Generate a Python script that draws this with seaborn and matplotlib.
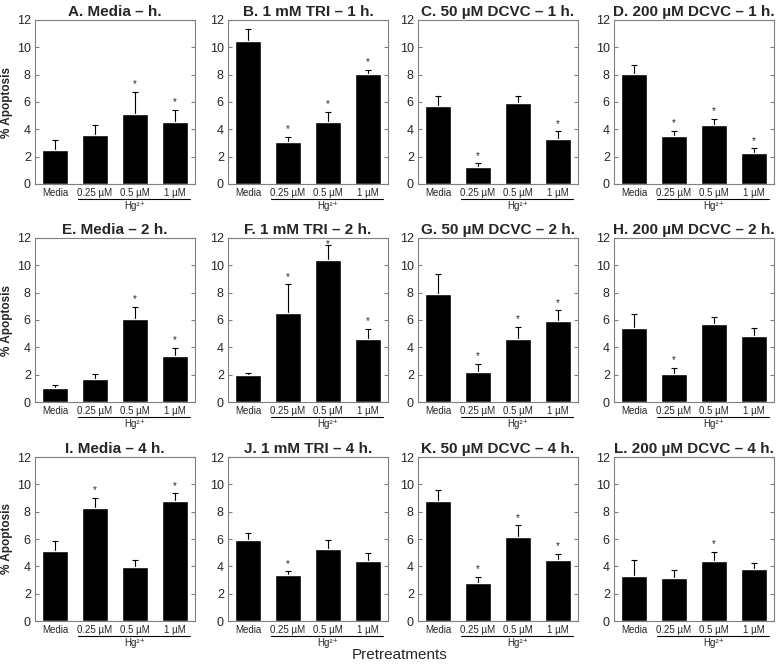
import matplotlib
matplotlib.use("Agg")
import matplotlib.pyplot as plt
import matplotlib.transforms as mtransforms
import seaborn as sns
import numpy as np

sns.set_style("white")
plt.rcParams['font.family'] = ['Liberation Sans', 'DejaVu Sans']

# data
groups = ["Media", "0.25 µM", "0.5 µM", "1 µM"]
titles = ["A. Media – h.", "B. 1 mM TRI – 1 h.", "C. 50 µM DCVC – 1 h.", "D. 200 µM DCVC – 1 h.",
          "E. Media – 2 h.", "F. 1 mM TRI – 2 h.", "G. 50 µM DCVC – 2 h.", "H. 200 µM DCVC – 2 h.",
          "I. Media – 4 h.", "J. 1 mM TRI – 4 h.", "K. 50 µM DCVC – 4 h.", "L. 200 µM DCVC – 4 h."]
means = [[2.5, 3.55, 5.1, 4.5],
         [10.5, 3.05, 4.55, 8.05],
         [5.7, 1.25, 5.9, 3.3],
         [8.05, 3.5, 4.3, 2.3],
         [1.0, 1.7, 6.05, 3.4],
         [1.95, 6.5, 10.4, 4.6],
         [7.9, 2.2, 4.6, 5.9],
         [5.4, 2.05, 5.7, 4.8],
         [5.1, 8.25, 3.95, 8.75],
         [5.9, 3.35, 5.25, 4.4],
         [8.8, 2.75, 6.15, 4.5],
         [3.3, 3.15, 4.4, 3.8]]
sems = [[0.7, 0.75, 1.65, 0.95],
        [0.85, 0.4, 0.75, 0.3],
        [0.75, 0.25, 0.55, 0.55],
        [0.65, 0.4, 0.45, 0.3],
        [0.25, 0.35, 0.9, 0.55],
        [0.2, 2.1, 1.1, 0.75],
        [1.5, 0.6, 0.9, 0.8],
        [1.05, 0.45, 0.55, 0.65],
        [0.75, 0.75, 0.55, 0.6],
        [0.55, 0.3, 0.7, 0.55],
        [0.8, 0.5, 0.85, 0.4],
        [1.15, 0.55, 0.65, 0.45]]
signif = [[0, 0, 1, 1], [0, 1, 1, 1], [0, 1, 0, 1], [0, 1, 1, 1],
          [0, 0, 1, 1], [0, 1, 1, 1], [0, 1, 1, 1], [0, 1, 0, 0],
          [0, 1, 0, 1], [0, 1, 0, 0], [0, 1, 1, 1], [0, 0, 1, 0]]

W, H = 778, 665
fig = plt.figure(figsize=(W / 100, H / 100), dpi=100)

col_left = [35, 228, 418, 614]
row_top = [20, 238, 457]
ax_w, ax_h = 160, 164
frame = "#808080"

for i, title in enumerate(titles):
    r, c = divmod(i, 4)
    left = col_left[c] / W
    bottom = 1 - (row_top[r] + ax_h) / H
    ax = fig.add_axes([left, bottom, ax_w / W, ax_h / H])

    sns.barplot(x=groups, y=means[i], color="black", width=0.65,
                saturation=1, errorbar=None, ax=ax, zorder=2)
    x = np.arange(len(groups))
    ax.errorbar(x, means[i], yerr=[np.zeros(4), sems[i]], fmt="none",
                ecolor="black", elinewidth=0.8, capsize=2, capthick=0.8, zorder=1)
    for k in range(4):
        if signif[i][k]:
            ys = min(means[i][k] + sems[i][k] + 0.55, 11.55)
            ax.text(k, ys, "*", ha="center", va="center", fontsize=7)

    ax.set_xlim(-0.5, 3.5)
    ax.set_ylim(0, 12)
    ax.set_yticks(range(0, 13, 2))
    ax.tick_params(axis="y", direction="in", length=3, labelsize=9,
                   right=True, left=True, color=frame, pad=3)
    ax.tick_params(axis="x", length=0, labelsize=7, pad=3)
    for s in ax.spines.values():
        s.set_color(frame)
        s.set_linewidth(0.8)
    ax.set_title(title, fontsize=11, fontweight="bold", pad=3)
    ax.set_xlabel("")
    if c == 0:
        ax.set_ylabel("% Apoptosis", fontsize=8.5, fontweight="bold", labelpad=3)
    else:
        ax.set_ylabel("")

    # Hg2+ bracket line under the three mercury groups
    trans = mtransforms.blended_transform_factory(ax.transData, ax.transAxes)
    ax.plot([0.57, 3.38], [-0.09, -0.09], color="black", lw=0.8,
            transform=trans, clip_on=False)
    ax.text(2.0, -0.105, "Hg²⁺", ha="center", va="top", fontsize=7,
            transform=trans)

fig.text(400 / W, 1 - 655 / H, "Pretreatments", ha="center", va="center", fontsize=11)

fig.savefig("out.png", dpi=100, facecolor="white")
